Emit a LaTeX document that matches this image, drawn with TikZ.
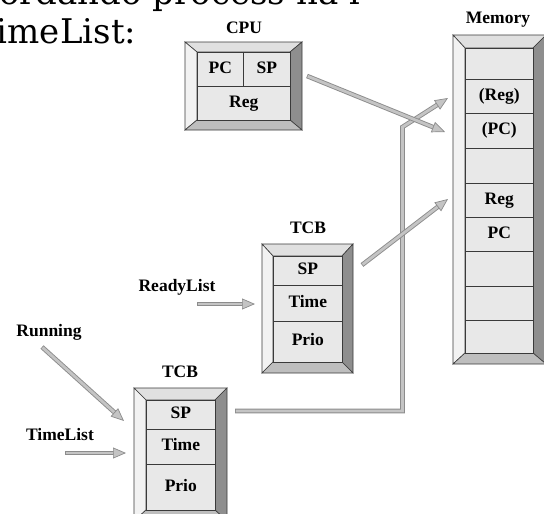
\documentclass[tikz,border=0pt]{standalone}
\usepackage{fontspec}
\setmainfont{Liberation Serif}
\newfontfamily\notefont{DejaVu Serif}
\usetikzlibrary{arrows.meta,calc}

\definecolor{facegray}{HTML}{E8E8E8}
\definecolor{bevtop}{HTML}{E0E0E0}
\definecolor{bevleft}{HTML}{F2F2F2}
\definecolor{bevright}{HTML}{8E8E8E}
\definecolor{bevbot}{HTML}{BEBEBE}
\definecolor{edgegray}{HTML}{3A3A3A}
\definecolor{pipefill}{HTML}{C4C4C4}
\definecolor{pipeedge}{HTML}{8C8C8C}

% bevelled frame: outer x1 y1 x2 y2, inner x1 y1 x2 y2
\newcommand\bevelframe[8]{%
  \filldraw[frameline, fill=bevtop]   (#1,#2) -- (#3,#2) -- (#7,#6) -- (#5,#6) -- cycle;
  \filldraw[frameline, fill=bevleft]  (#1,#2) -- (#5,#6) -- (#5,#8) -- (#1,#4) -- cycle;
  \filldraw[frameline, fill=bevright] (#3,#2) -- (#3,#4) -- (#7,#8) -- (#7,#6) -- cycle;
  \filldraw[frameline, fill=bevbot]   (#1,#4) -- (#5,#8) -- (#7,#8) -- (#3,#4) -- cycle;
}

\tikzset{
  frameline/.style={draw=edgegray, line width=0.6pt, line join=miter},
  cell/.style={draw=edgegray, line width=0.6pt, fill=facegray, inner sep=0pt,
    anchor=north west, font=\bfseries\fontsize{17.5}{17.5}\selectfont,
    text height=11.5pt, text depth=3.5pt},
  lbl/.style={inner sep=0pt, font=\bfseries\fontsize{17.5}{17.5}\selectfont},
  note/.style={inner sep=0pt, anchor=base west, font=\notefont\fontsize{34}{34}\selectfont},
  pipeouter/.style={draw=pipeedge, line width=4.6pt, line join=miter, shorten >=12pt},
  pipeinner/.style={draw=pipefill, line width=2.8pt, line join=miter, shorten >=11.5pt, shorten <=0.8pt},
  pipehead/.style={draw=pipeedge, line width=0.7pt, -{Triangle[length=13pt, width=11pt, fill=pipefill]}},
}

% shaft and head of a wide grey arrow
\newcommand\pipeshaft[1]{%
  \draw[pipeouter] #1;
  \draw[pipeinner] #1;
}
\newcommand\pipetip[2]{%
  \draw[pipehead] ($(#2)!13pt!(#1)$) -- (#2);
}

\begin{document}
\begin{tikzpicture}[x=1pt, y=-1pt]
\useasboundingbox (0,0) rectangle (544,514);
\clip (0,0) rectangle (544,514);

% heading text
\node[note] (note1) at (-1,5) {ordando process na l};
\node[note] (note2) at (-26,43) {TimeList:};

% CPU
\node[lbl] (cpulbl) at (244,28) {CPU};
\bevelframe{185}{42}{302}{130}{197}{52}{290}{120}
\node[cell, minimum width=46pt, minimum height=34pt] (cpupc) at (197,52) {PC};
\node[cell, minimum width=47pt, minimum height=34pt] (cpusp) at (243,52) {SP};
\node[cell, minimum width=93pt, minimum height=34pt] (cpureg) at (197,86) {Reg};

% Memory
\node[lbl] (memlbl) at (498,20) {Memory};
\bevelframe{453}{35}{546}{364}{465}{48}{533}{353}
\foreach \i/\top/\h/\t in {1/48/31/, 2/79/34/(Reg), 3/113/35/(PC), 4/148/35/,
    5/183/34/Reg, 6/217/34/PC, 7/251/35/, 8/286/34/, 9/320/33/}
  \node[cell, minimum width=68pt, minimum height=\h pt] (mem\i) at (465,\top) {\t};

% TCB of the ready task
\node[lbl] (tcbAlbl) at (308,228) {TCB};
\bevelframe{262}{244}{353}{373}{273}{256}{342}{362}
\node[cell, minimum width=69pt, minimum height=29pt] (tcbAsp) at (273,256) {SP};
\node[cell, minimum width=69pt, minimum height=36pt] (tcbAtime) at (273,285) {Time};
\node[cell, minimum width=69pt, minimum height=41pt] (tcbAprio) at (273,321) {Prio};

% TCB of the running task
\node[lbl] (tcbBlbl) at (180,372) {TCB};
\bevelframe{134}{388}{227}{521}{146}{400}{215}{510}
\node[cell, minimum width=69pt, minimum height=29pt] (tcbBsp) at (146,400) {SP};
\node[cell, minimum width=69pt, minimum height=35pt] (tcbBtime) at (146,429) {Time};
\node[cell, minimum width=69pt, minimum height=46pt] (tcbBprio) at (146,464) {Prio};

% list labels
\node[lbl] (ready) at (177,287) {ReadyList};
\node[lbl] (running) at (49,332) {Running};
\node[lbl] (timelist) at (60,435) {TimeList};

% arrow end points
\coordinate (readyS) at (197,304);   \coordinate (readyT) at (255,304);
\coordinate (runS) at (42,347);      \coordinate (runT) at (124,421);
\coordinate (timeS) at (65,453);     \coordinate (timeT) at (126,453);
\coordinate (cpuS) at (307,76);      \coordinate (cpuT) at (445,132);
\coordinate (tcbAS) at (362,265);    \coordinate (tcbAT) at (448,199);
\coordinate (tcbBS) at (235,411);    \coordinate (tcbB1) at (402.5,411);
\coordinate (tcbB2) at (402.5,127);  \coordinate (tcbBT) at (448,98);

% arrows
\pipeshaft{(tcbBS) -- (tcbB1) -- (tcbB2) -- (tcbBT)}
\pipetip{tcbB2}{tcbBT}
\pipeshaft{(cpuS) -- (cpuT)}
\pipetip{cpuS}{cpuT}
\pipeshaft{(tcbAS) -- (tcbAT)}
\pipetip{tcbAS}{tcbAT}
\pipeshaft{(readyS) -- (readyT)}
\pipetip{readyS}{readyT}
\pipeshaft{(runS) -- (runT)}
\pipetip{runS}{runT}
\pipeshaft{(timeS) -- (timeT)}
\pipetip{timeS}{timeT}
\end{tikzpicture}
\end{document}
